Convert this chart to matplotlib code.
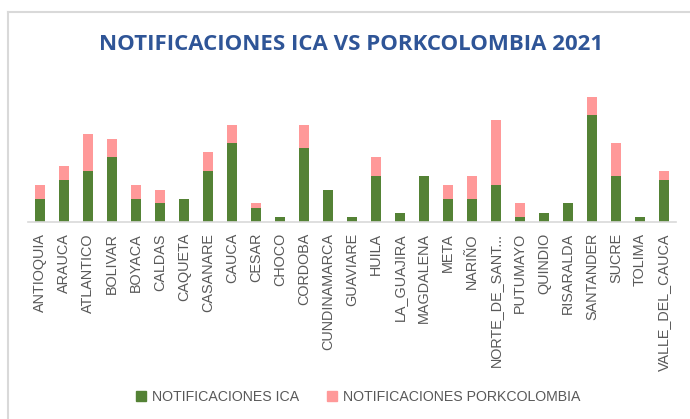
import matplotlib.pyplot as plt
import numpy as np
from matplotlib.patches import Patch
from matplotlib.lines import Line2D

departamentos = ['ANTIOQUIA', 'ARAUCA', 'ATLANTICO', 'BOLIVAR', 'BOYACA', 'CALDAS',
                 'CAQUETA', 'CASANARE', 'CAUCA', 'CESAR', 'CHOCO', 'CORDOBA',
                 'CUNDINAMARCA', 'GUAVIARE', 'HUILA', 'LA_GUAJIRA', 'MAGDALENA',
                 'META', 'NARIÑO', 'NORTE_DE_SANT...', 'PUTUMAYO', 'QUINDIO',
                 'RISARALDA', 'SANTANDER', 'SUCRE', 'TOLIMA', 'VALLE_DEL_CAUCA']
notif_ica = [5, 9, 11, 14, 5, 4, 5, 11, 17, 3, 1, 16, 7, 1, 10, 2, 10,
             5, 5, 8, 1, 2, 4, 23, 10, 1, 9]
notif_pork = [3, 3, 8, 4, 3, 3, 0, 4, 4, 1, 0, 5, 0, 0, 4, 0, 0,
              3, 5, 14, 3, 0, 0, 4, 7, 0, 2]

green = '#548235'
pink = '#FF9999'
gray_txt = '#595959'

fig = plt.figure(figsize=(6.9, 4.19), dpi=100)
ax = fig.add_axes([28 / 690, 1 - 222 / 419, 648 / 690, 139 / 419])

x = np.arange(len(departamentos))
ax.bar(x, notif_ica, width=0.38, color=green, label='NOTIFICACIONES ICA')
ax.bar(x, notif_pork, width=0.38, bottom=notif_ica, color=pink,
       label='NOTIFICACIONES PORKCOLOMBIA')

ax.set_xlim(-0.5, len(departamentos) - 0.5)
ax.set_ylim(0, 30)
ax.set_yticks([])
for s in ['top', 'right', 'left']:
    ax.spines[s].set_visible(False)
ax.spines['bottom'].set_color('#D9D9D9')
ax.spines['bottom'].set_linewidth(1.2)
ax.set_xticks(x)
ax.set_xticklabels(departamentos, rotation=90, fontsize=10.4, color=gray_txt,
                   family='Liberation Sans', va='top')
ax.tick_params(axis='x', length=0, pad=8)

fig.text(351 / 690, 1 - 45 / 419, 'NOTIFICACIONES ICA VS PORKCOLOMBIA 2021',
         ha='center', va='center', fontsize=16, fontweight='bold',
         color='#2F5597', family='Open Sans')

handles = [Patch(color=green), Patch(color=pink)]
fig.legend(handles, ['NOTIFICACIONES ICA', 'NOTIFICACIONES PORKCOLOMBIA'],
           loc='center', bbox_to_anchor=(358 / 690, 1 - 397 / 419), ncol=2,
           frameon=False, handlelength=0.7, handleheight=0.7, handletextpad=0.4,
           columnspacing=2.0, prop={'family': 'Liberation Sans', 'size': 10.2},
           labelcolor=gray_txt)

# chart border (left and top visible)
fig.add_artist(Line2D([8 / 690, 8 / 690], [0, 1 - 12 / 419], color='#D9D9D9',
                      lw=1.5, transform=fig.transFigure))
fig.add_artist(Line2D([8 / 690, 1], [1 - 12 / 419, 1 - 12 / 419], color='#D9D9D9',
                      lw=1.5, transform=fig.transFigure))

fig.savefig('out.png', dpi=100)
